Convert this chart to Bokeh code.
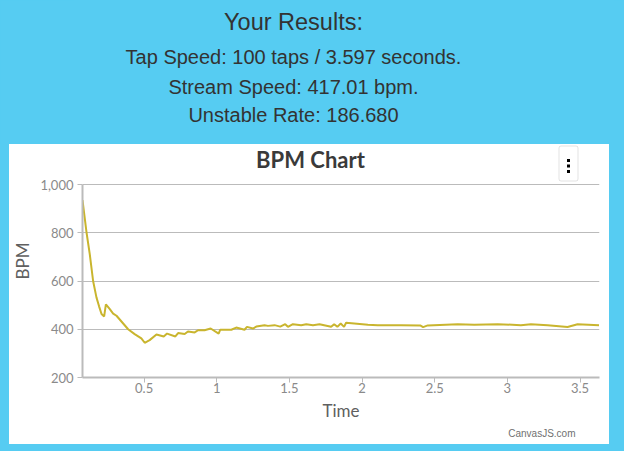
from bokeh.plotting import figure
from bokeh.layouts import column
from bokeh.models import (Range1d, FixedTicker, NumeralTickFormatter, CustomJSTickFormatter,
                          Label, BoxAnnotation, GlobalInlineStyleSheet, Title)
from bokeh.embed import file_html
from bokeh.resources import INLINE

# ---- data ----
time_s = [0.076, 0.104, 0.126, 0.149, 0.172, 0.190, 0.207, 0.225, 0.237, 0.264, 0.287, 0.310,
          0.350, 0.390, 0.435, 0.481, 0.504, 0.538, 0.585, 0.635, 0.658, 0.715, 0.734, 0.779,
          0.802, 0.848, 0.871, 0.916, 0.958, 1.013, 1.024, 1.100, 1.134, 1.191, 1.208, 1.249,
          1.272, 1.329, 1.352, 1.398, 1.437, 1.471, 1.490, 1.524, 1.581, 1.616, 1.662, 1.707,
          1.787, 1.808, 1.830, 1.853, 1.876, 1.890, 2.040, 2.108, 2.268, 2.400, 2.420, 2.452,
          2.658, 2.772, 2.933, 3.093, 3.162, 3.277, 3.414, 3.483, 3.631]
bpm = [935, 800, 711, 600, 532, 495, 463, 453, 503, 483, 465, 456,
       428, 400, 380, 362, 344, 355, 378, 370, 382, 370, 384, 380,
       391, 387, 396, 396, 403, 382, 398, 398, 407, 398, 410, 403,
       411, 417, 414, 417, 411, 421, 410, 421, 417, 421, 417, 421,
       410, 421, 410, 424, 410, 427, 419, 417, 417, 416, 409, 416,
       421, 419, 421, 417, 421, 417, 409, 421, 417]
y_ticks = [200, 400, 600, 800, 1000]
x_ticks = [0.5, 1, 1.5, 2, 2.5, 3, 3.5]

title_text = "BPM Chart"
header_title = "Your Results:"
header_lines = ["Tap Speed: 100 taps / 3.597 seconds.",
                "Stream Speed: 417.01 bpm.",
                "Unstable Rate: 186.680"]
credit_text = "CanvasJS.com"

BLUE = "#56CCF2"
GRID = "#BBBBBB"
LINE = "#C9B52E"
TXT = "#333333"

# ---------------- header ----------------
head = figure(width=624, height=144, output_backend="svg", toolbar_location=None,
              x_range=Range1d(0, 624), y_range=Range1d(144, 0),
              x_axis_location=None, y_axis_location=None,
              min_border=0, min_border_left=0, min_border_right=0,
              min_border_top=0, min_border_bottom=0)
head.title.visible = False
head.stylesheets = [GlobalInlineStyleSheet(css=f"body {{ background: {BLUE}; }}")]
head.background_fill_color = BLUE
head.border_fill_color = BLUE
head.outline_line_color = None
head.grid.visible = False
head.add_layout(Label(x=293, y=21, x_units="canvas", y_units="canvas", text=header_title,
                      text_align="center", text_baseline="alphabetic",
                      text_font="Liberation Sans", text_font_size="23.5px", text_color=TXT))
for line, base in zip(header_lines, [56.5, 86, 114.5]):
    head.add_layout(Label(x=293, y=base, x_units="canvas", y_units="canvas", text=line,
                          text_align="center", text_baseline="alphabetic",
                          text_font="Liberation Sans", text_font_size="20px", text_color=TXT))

# ---------------- chart ----------------
y_top = 1000 + 40 * 800 / 193   # frame extends up to the top of the white panel
p = figure(width=600, height=300, output_backend="svg", toolbar_location=None,
           x_range=Range1d(0.076, 3.634), y_range=Range1d(200, y_top),
           min_border_left=72, min_border_right=10, min_border_top=0, min_border_bottom=67)
p.title.visible = False
p.margin = (0, 15, 7, 9)
p.styles = {"background-color": "white"}
p.border_fill_color = None
p.background_fill_color = "white"
p.outline_line_color = None

p.line(time_s, bpm, line_color=LINE, line_width=2)

p.xgrid.visible = False
p.ygrid.grid_line_color = GRID
p.ygrid.grid_line_width = 1
p.yaxis.ticker = FixedTicker(ticks=y_ticks)
p.xaxis.ticker = FixedTicker(ticks=x_ticks)
p.yaxis.formatter = NumeralTickFormatter(format="0,0")
p.xaxis.formatter = CustomJSTickFormatter(code="return tick.toString();")
p.yaxis.bounds = (200, 1000)
for ax in (p.xaxis[0], p.yaxis[0]):
    ax.axis_line_color = GRID
    ax.axis_line_width = 2
    ax.major_tick_line_color = GRID
    ax.major_tick_line_width = 1
    ax.major_tick_out = 5
    ax.major_tick_in = 0
    ax.minor_tick_line_color = None
    ax.major_label_text_font = "Lato"
    ax.major_label_text_font_size = "13px"
    ax.major_label_text_color = "#8A8A8A"
    ax.axis_label_text_font = "Lato"
    ax.axis_label_text_font_size = "17px"
    ax.axis_label_text_font_style = "normal"
    ax.axis_label_text_color = "#606060"
    ax.axis_label_standoff = 4
p.yaxis.axis_label = "BPM"
p.xaxis.axis_label = "Time"
p.yaxis.major_label_standoff = 4
p.xaxis.major_label_standoff = 0

# chart title (inside the extended frame)
p.add_layout(Label(x=301, y=15, x_units="canvas", y_units="canvas", text=title_text,
                   text_align="center", text_baseline="alphabetic",
                   text_font="Lato", text_font_style="bold", text_font_size="22px",
                   text_color="#3A3A3A"))

# menu button
p.add_layout(BoxAnnotation(left=549.5, right=568.5, top=1.5, bottom=36.5,
                           left_units="canvas", right_units="canvas",
                           top_units="canvas", bottom_units="canvas",
                           fill_color="white", fill_alpha=1, line_color="#A0A0A0", line_width=1,
                           border_radius=2))
for cy in (16, 21.5, 27):
    p.add_layout(BoxAnnotation(left=557.5, right=560.5, top=cy - 1.5, bottom=cy + 1.5,
                               left_units="canvas", right_units="canvas",
                               top_units="canvas", bottom_units="canvas",
                               fill_color="black", fill_alpha=1, line_color=None))

# credit
p.add_layout(Title(text=credit_text, align="right", offset=24, standoff=5,
                   text_font="Liberation Sans", text_font_size="10px",
                   text_font_style="normal", text_color="#707070"), "below")

layout = column(head, p, spacing=0)
open("out.html", "w").write(file_html(layout, INLINE))
